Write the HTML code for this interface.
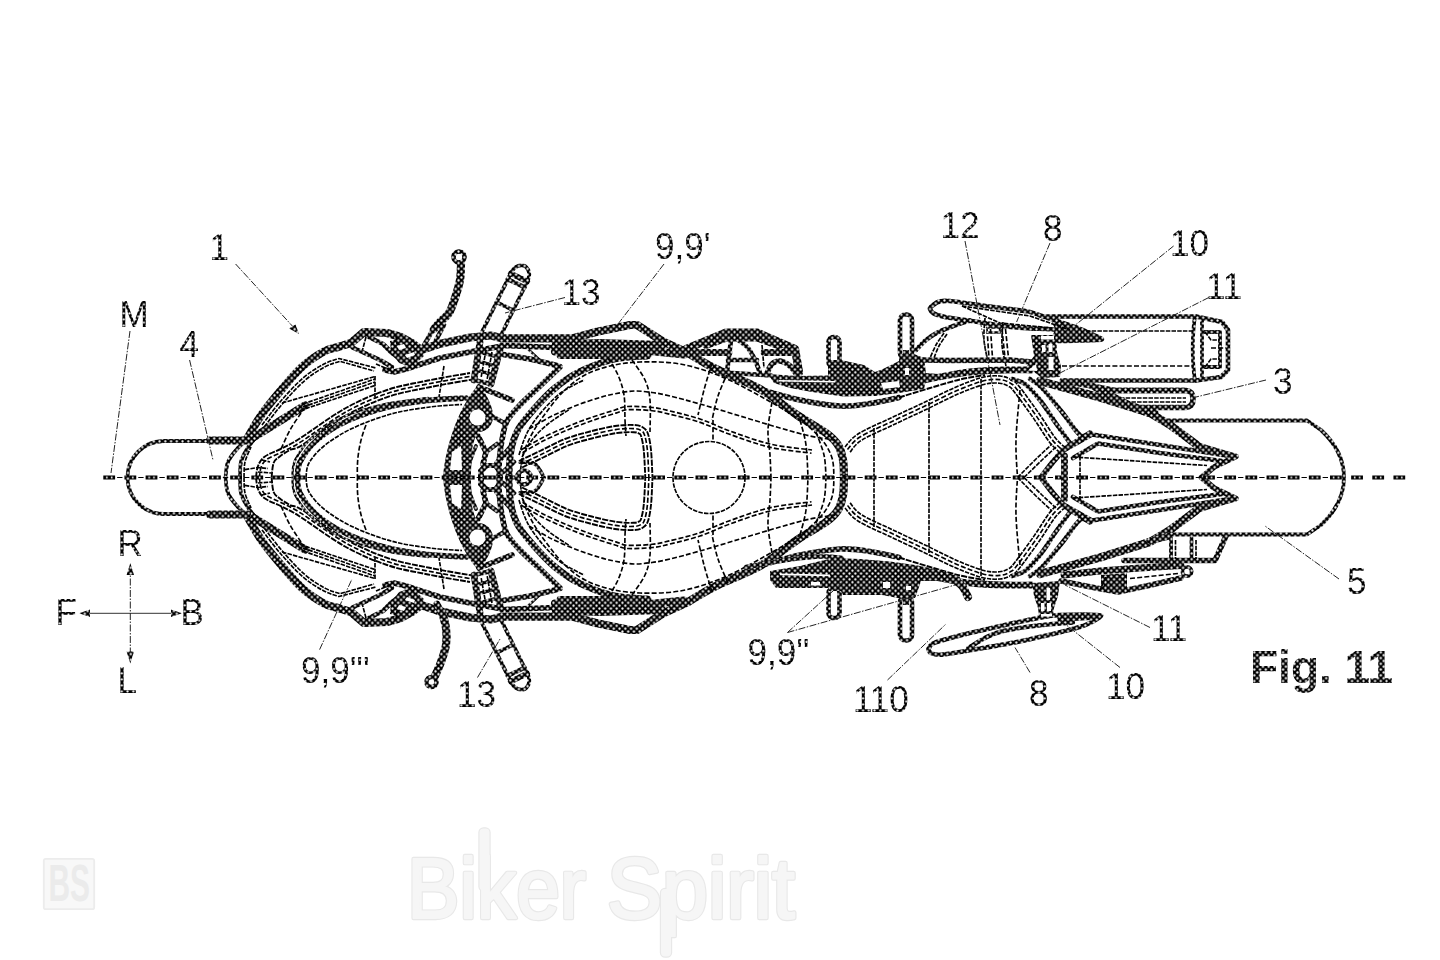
<!DOCTYPE html>
<html lang="en">
<head>
<meta charset="utf-8">
<title>Fig. 11 - Biker Spirit</title>
<style>
html,body{margin:0;padding:0;background:#fff;}
body{width:1440px;height:960px;overflow:hidden;font-family:"Liberation Sans",sans-serif;}
svg{display:block;position:absolute;left:0;top:0;}
.k9{stroke:url(#ht);stroke-width:9;fill:none;stroke-linejoin:round;stroke-linecap:round}
.k8{stroke:url(#ht);stroke-width:8;fill:none;stroke-linejoin:round;stroke-linecap:round}
.k7{stroke:url(#ht);stroke-width:8.2;fill:none;stroke-linejoin:round;stroke-linecap:round}
.k6{stroke:url(#ht);stroke-width:6.8;fill:none;stroke-linejoin:round;stroke-linecap:round}
.k5{stroke:url(#ht);stroke-width:5.6;fill:none;stroke-linejoin:round;stroke-linecap:round}
.k4{stroke:url(#ht);stroke-width:4.6;fill:none;stroke-linejoin:round;stroke-linecap:round}
.k3{stroke:url(#ht);stroke-width:3.8;fill:none;stroke-linejoin:round;stroke-linecap:round}
.k2{stroke:url(#ht);stroke-width:2.4;fill:none;stroke-linejoin:round;stroke-linecap:round}
.fk{fill:url(#ht);stroke:none}
.fw{fill:#fff;stroke:none}
.t{stroke:#000;stroke-width:1.65;fill:none;stroke-dasharray:4.5 1.2}
.td{stroke:#000;stroke-width:1.65;fill:none;stroke-dasharray:5 2.2}
.t2{stroke:#000;stroke-width:1.9;fill:none;stroke-dasharray:6 1.2}
.ld{stroke:#222;stroke-width:1;fill:none;stroke-dasharray:7 1.5 1.5 1.5}
.lb{font-family:"Liberation Sans",sans-serif;font-size:35px;fill:url(#ht2)}
.fg{font-family:"Liberation Sans",sans-serif;font-size:46px;font-weight:bold;fill:url(#ht)}
.wm{font-family:"Liberation Sans",sans-serif;font-size:86px;stroke-linejoin:round}
.wa{fill:#e8e8e8;stroke:#e8e8e8;stroke-width:4.4}
.wb{fill:#f6f6f6;stroke:#f6f6f6;stroke-width:2}
</style>
</head>
<body>
<svg width="1440" height="960" viewBox="0 0 1440 960">
<defs>
<pattern id="ht" width="5.75" height="5.75" patternUnits="userSpaceOnUse">
<rect width="5.75" height="5.75" fill="#000"/>
<circle cx="1.44" cy="1.44" r="1.12" fill="#fff"/><circle cx="4.31" cy="4.31" r="1.12" fill="#fff"/>
</pattern>
<pattern id="ht2" width="5.75" height="5.75" patternUnits="userSpaceOnUse">
<rect width="5.75" height="5.75" fill="#000"/>
<circle cx="1.44" cy="1.44" r="1.05" fill="#fff"/><circle cx="4.31" cy="4.31" r="1.05" fill="#fff"/>
</pattern>
<pattern id="htc" x="103.3" y="473.5" width="21.15" height="8" patternUnits="userSpaceOnUse">
<rect width="21.15" height="8" fill="#000"/>
<circle cx="3.6" cy="4" r=".95" fill="#fff"/><circle cx="8.4" cy="4" r=".95" fill="#fff"/>
</pattern>
</defs>
<rect width="1440" height="960" fill="#fff"/>

<!-- watermark -->
<g id="watermark">
<rect x="43.8" y="858.8" width="50.4" height="50.4" rx="2" fill="#f8f8f8" stroke="#ececec" stroke-width="1.8"/>
<text x="48.5" y="901" font-family="Liberation Sans, sans-serif" font-weight="bold" font-size="51.5" textLength="41.5" lengthAdjust="spacingAndGlyphs" fill="#ebebeb">BS</text>
<g class="wm wa">
<rect x="480.5" y="829.5" width="8" height="60" rx="3"/>
<rect x="662" y="890" width="8" height="65.5" rx="3"/>
<text x="407" y="918" textLength="179" lengthAdjust="spacingAndGlyphs">Biker</text>
<text x="607" y="918" textLength="188" lengthAdjust="spacingAndGlyphs">Spirit</text>
</g>
<g class="wm wb">
<rect x="480.5" y="829.5" width="8" height="60" rx="3"/>
<rect x="662" y="890" width="8" height="65.5" rx="3"/>
<text x="407" y="918" textLength="179" lengthAdjust="spacingAndGlyphs">Biker</text>
<text x="607" y="918" textLength="188" lengthAdjust="spacingAndGlyphs">Spirit</text>
</g>
</g>

<!-- symmetric half + mirror -->
<g id="half">
<path class="k3" d="M250,437 C247.8,439 240.7,444.8 237,449 C233.3,453.2 229.9,457.2 228,462 C226.1,466.8 225.9,474.9 225.5,477.5"/>
<path class="k3" d="M256,437 C254.5,439 249.5,444.8 247,449 C244.5,453.2 242.2,457.2 241,462 C239.8,466.8 240.2,474.9 240,477.5"/>
<path class="k7" d="M247,439 C249.5,434.8 256.2,422.3 262,414 C267.8,405.7 275.2,397 282,389 C288.8,381 296,372.2 303,366 C310,359.8 318.2,354.7 324,351.5 C329.8,348.3 333.5,348.4 338,347 C342.5,345.6 348.8,343.7 351,343 L364,332 L387,333 L401,337 L412,343 L421,350"/>
<path class="k4" d="M352.5,347.5 L380,360 L392,367"/>
<path class="k5" d="M385,370 L394,372 L406,369 L418,365 L440,358 L480,350"/>
<path class="k4" d="M367,336 L383,344 L392,353 L405,363"/>
<path class="fk" d="M390,341 L405,337 L419,345 L424,356 L412,367 L399,363 L391,352Z"/>
<path class="fw" d="M397,346 L404,344 L406,348 L399,350Z M405,355 L414,352 L415,355 L407,358Z"/>
<path class="t" d="M366,337 L362.5,350"/>
<path class="t" d="M396,336 L397,344"/>
<path class="t" d="M376,364 L391,370.5"/>
<path class="k7" d="M421,350 L439,344 L470,337.5 L491,335.5 L502,338.3 L573,338.3 L597,331.7 L630,325 L637,325 L663,341.5 L688,353"/>
<path class="k7" d="M688,353 C692.5,355.6 703,362.5 715,368.5 C727,374.5 746.3,381.2 760,389 C773.7,396.8 786,407.7 797,415 C808,422.3 819.2,428 826,433 C832.8,438 835.2,440.5 838,445 C840.8,449.5 842,454.6 843,460 C844,465.4 843.8,474.6 844,477.5"/>
<path class="k7" d="M556,344.5 L600,343 L662,345"/>
<path class="k5" d="M480,350 L505,345.5 L555,347.5"/>
<path class="k7" d="M555,351.5 L600,351 L650,351 L684,354.5"/>
<path class="k6" d="M560,355.5 L648,355.5"/>
<path class="k5" d="M503,354.5 L530,359 L555,365 L560,366.7"/>
<path class="k2" d="M528,349 L543,363"/>
<path class="k7" d="M250,439.5 L305,405.5"/>
<path class="td" d="M301,413 C299.2,415.8 293.3,424 290,430 C286.7,436 282.5,445.8 281,449"/>
<path class="t" d="M303,404 L375,379"/>
<path class="t" d="M303,407 L375,382"/>
<path class="t" d="M300,410.5 L375,385.5"/>
<path class="t" d="M282,403 L375,376.5"/>
<path class="t" d="M375,376 L375,399"/>
<path class="t" d="M444,366 L439,397"/>
<path class="t" d="M262,425 C265,421.2 273.2,409.8 280,402 C286.8,394.2 295.7,384.3 303,378 C310.3,371.7 318,367.2 324,364 C330,360.8 336.5,359.4 339,358.5 L376,368"/>
<path class="t" d="M264.4,426.8 C267.3,423 275.5,411.7 282.3,404 C289,396.2 297.8,386.5 305,380.3 C312.2,374 319.6,369.8 325.4,366.6 C331.3,363.5 337.6,362.2 340,361.3 L374,371"/>
<path class="t2" d="M256,477.5 C256.3,475.6 256.6,469.5 258,466 C259.4,462.5 260.7,459.6 264.6,456.7 C268.5,453.8 275.8,451.4 281.5,448.5 C287.2,445.6 288.4,445.7 299,439 C309.6,432.3 330.3,416.7 345,408.5 C359.7,400.3 373.2,394.7 387,390 C400.8,385.3 414.2,383.3 428,380.5 C441.8,377.7 463,374.2 470,373"/>
<path class="td" d="M259.3,478.1 C259.6,476.3 259.9,470.4 261.1,467.3 C262.4,464.2 263,462.1 266.6,459.4 C270.3,456.8 277.4,454.4 283.1,451.5 C288.8,448.6 290.2,448.6 300.8,441.9 C311.4,435.2 332.1,419.6 346.7,411.5 C361.2,403.4 374.4,397.8 388.1,393.2 C401.8,388.6 414.9,386.6 428.7,383.8 C442.4,381 463.6,377.6 470.6,376.3"/>
<path class="t2" d="M271.6,477.5 C271.9,475.1 272.3,466.5 273.6,463 C274.9,459.5 276.8,458.9 279.5,456.7 C282.2,454.5 286.1,452 290,450 C293.9,448 292.9,450.7 302.6,444.8 C312.3,438.8 333.9,422.5 348.3,414.4 C362.7,406.4 375.7,401 389.2,396.4 C402.7,391.9 415.7,390 429.4,387.2 C443,384.4 464.2,380.9 471.2,379.7"/>
<path class="k5" d="M297.5,477.5 C297.9,474.9 296.8,468.2 300,462 C303.2,455.8 309.2,446.8 317,440 C324.8,433.2 335.2,426.5 347,421 C358.8,415.5 374.5,410.4 388,407 C401.5,403.6 415,402 428,400.5 C441,399 459.7,398.4 466,398"/>
<path class="k2" d="M292.4,476.7 C292.9,473.8 291.9,466.4 295.4,459.6 C298.9,452.8 305.3,443.3 313.6,436.1 C321.8,428.9 332.4,421.7 344.8,416.3 C357.2,410.9 374.1,406.5 388,403.5 C401.9,400.5 421.3,398.9 428,398"/>
<path class="t" d="M306,477.5 C306.5,475.1 306,468.2 309,463 C312,457.8 316.8,451.8 324,446 C331.2,440.2 340.8,433.8 352,428.5 C363.2,423.2 378,417.6 391,414 C404,410.4 418.2,408.6 430,407 C441.8,405.4 456.7,404.9 462,404.5"/>
<path class="td" d="M366,425 Q356,450 357.5,477.5"/>
<path class="t" d="M244,477.5 C244.2,474.9 243.8,467.1 245,462 C246.2,456.9 250,449.5 251,447"/>
<path class="t" d="M244.8,469.6 L258,467.5 L268,468.5"/>
<path class="t" d="M262,460 L270,462"/>
<path class="t" d="M258,472 L271,473"/>
<path class="k3" d="M499.1,339.1 L527.3,281.6 Q532.2,271.7 524.7,265.8 Q515.5,263.5 510.7,273.4 L482.5,330.9"/>
<path class="k5" d="M527.3,281.6 L510.7,273.4"/>
<path class="k4" d="M524.5,287.3 L507.8,279.2"/>
<path class="k3" d="M513.2,310.3 L496.6,302.2"/>
<path class="k6" d="M480,342 L474,380"/>
<path class="k6" d="M501,346 L491,384"/>
<path class="k3" d="M479,352 L498,357"/>
<path class="k3" d="M477,361 L496,366"/>
<path class="k3" d="M476,370 L494,375"/>
<path class="k4" d="M474,380 L491,384"/>
<path class="t" d="M486,350 L481,378"/>
<path class="t" d="M492,352 L487,380"/>
<path class="fk" d="M479,384 C462,402 446,440 443,477.5 L469,477.5 C470,455 473,440 478,432 C488,432 494,424 493,414 C492,404 486,394 479,384Z"/>
<circle cx="477.5" cy="417.5" r="8" class="fw"/>
<path class="fw" d="M452,452 L461,446 L462,470 L450,470Z"/>
<path class="k5" d="M479,387 L512,400"/>
<path class="k4" d="M488,414 L506,424"/>
<path class="k5" d="M478,436 L486,452 L483,464"/>
<path class="k4" d="M486,452 L497,444"/>
<path class="k3" d="M469,477.5 C469.2,474.9 468.8,467.2 470,462 C471.2,456.8 475,448.7 476,446"/>
<path class="fk" d="M478,477.5 L478,470 L484,463 L496,463 L502,470 L503,477.5Z"/>
<path class="fw" d="M484,477.5 L484,472 L488,468 L494,468 L497,472 L497,477.5Z"/>
<path class="k5" d="M497,463 L510,448"/>
<path class="k4" d="M503,472 L514,462"/>
<path class="k3" d="M520,462 C522.5,462.3 531,461.4 535,464 C539,466.6 542.5,475.2 544,477.5"/>
<path class="k6" d="M509,477.5 C509.2,474.2 509.3,463.9 510,458 C510.7,452.1 511.5,447 513,442 C514.5,437 515.3,433.7 519,428 C522.7,422.3 529,414.7 535,408 C541,401.3 547.5,394.1 555,388 C562.5,381.9 570.3,376.2 580,371.5 C589.7,366.8 601.8,362.1 613,359.5 C624.2,356.9 641.3,356.6 647,356"/>
<path class="k5" d="M499,477.5 C499.1,474.2 499,464.2 499.5,458 C500,451.8 500.8,446.2 502,440 C503.2,433.8 504,426.8 507,421 C510,415.2 514.8,410.5 520,405 C525.2,399.5 531.3,394.3 538,388 C544.7,381.7 556.3,370.5 560,367"/>
<path class="td" d="M520,477.5 C520.5,473.8 520.8,462.6 523,455 C525.2,447.4 528.8,439.5 533,432 C537.2,424.5 542.7,417 548,410 C553.3,403 558.8,395.8 565,390 C571.2,384.2 577.5,379 585,375 C592.5,371 600.8,368.2 610,366 C619.2,363.8 628.3,362.3 640,362 C651.7,361.7 666.7,361.7 680,364 C693.3,366.3 706.7,370.7 720,376 C733.3,381.3 746.7,388.7 760,396 C773.3,403.3 789.7,412.7 800,420 C810.3,427.3 816.7,433.7 822,440 C827.3,446.3 830,451.8 832,458 C834,464.2 833.7,474.2 834,477.5"/>
<path class="td" d="M529,429 C532.8,426.8 543.9,420 552,416 C560.1,412 569.5,408.1 577.5,405 C585.5,401.9 593.8,399.4 600,397.5 C606.2,395.6 609.3,394.8 615,393.8 C620.7,392.7 627.8,391.2 634,391 C640.2,390.8 646,391.7 652,392.5 C658,393.3 662,394.1 670,396 C678,397.9 688.3,400.7 700,404 C711.7,407.3 726.7,412 740,416 C753.3,420 768.3,424.7 780,428 C791.7,431.3 800.8,434 810,436 C819.2,438 830.8,439.3 835,440"/>
<path class="td" d="M521,450 C524.2,448.2 532.7,442.8 540,439 C547.3,435.2 556.7,431 565,427.5 C573.3,424 581.7,420.9 590,418 C598.3,415.1 608.8,411.9 615,410 C621.2,408.1 621.2,406.9 627.5,406.5 C633.8,406.1 645.4,406.8 652.5,407.5 C659.6,408.2 662.1,409.1 670,411 C677.9,412.9 690,415.7 700,419 C710,422.3 718.3,426.8 730,431 C741.7,435.2 756.3,440.8 770,444 C783.7,447.2 805,449 812,450"/>
<path class="td" d="M522.6,452.8 C525.7,450.9 534.2,445.6 541.5,441.8 C548.7,438.1 558,433.9 566.2,430.5 C574.5,427 582.8,423.9 591.1,421 C599.3,418.1 609.8,414.9 615.9,413.1 C622,411.2 621.7,410.1 627.7,409.7 C633.8,409.3 645.2,409.9 652.2,410.7 C659.1,411.4 661.4,412.2 669.2,414.1 C677.1,416 689,418.7 699,422 C708.9,425.4 717.2,429.8 728.9,434 C740.6,438.2 755.5,443.9 769.3,447.1 C783,450.3 804.5,452.2 811.5,453.2"/>
<path class="t" d="M519,455 C519.8,452.5 522,444.8 524,440 C526,435.2 527.5,431.3 531,426 C534.5,420.7 539.8,413.7 545,408 C550.2,402.3 555.5,396.7 562,392 C568.5,387.3 580.3,382 584,380"/>
<path class="t" d="M522,457 C523.7,454.2 527.7,445.5 532,440 C536.3,434.5 541.7,429.2 548,424 C554.3,418.8 566.3,411.5 570,409"/>
<path class="t2" d="M519,461 C522.5,459.3 532.3,454.7 540,451 C547.7,447.3 556.7,442.2 565,439 C573.3,435.8 581.7,433.7 590,431.5 C598.3,429.3 607.7,427.1 615,426 C622.3,424.9 629.3,424.8 634,425 C638.7,425.2 640.7,426 643,427.5 C645.3,429 646.7,430.2 648,434 C649.3,437.8 650.2,442.8 651,450 C651.8,457.2 652.2,472.9 652.5,477.5"/>
<path class="td" d="M520.5,464.3 C524,462.6 533.9,457.9 541.6,454.2 C549.2,450.6 558.1,445.6 566.3,442.4 C574.5,439.1 582.7,437.1 590.9,435 C599.1,432.9 608.4,430.6 615.5,429.6 C622.7,428.5 629.6,428.4 633.8,428.6 C638.1,428.8 639.3,429.4 641.1,430.5 C642.9,431.6 643.5,431.9 644.6,435.2 C645.7,438.5 646.7,443.3 647.4,450.4 C648.1,457.5 648.7,473.1 648.9,477.7"/>
<path class="t2" d="M522.1,467.5 C525.6,465.8 535.5,461.1 543.1,457.5 C550.7,453.9 559.5,448.9 567.6,445.7 C575.7,442.5 583.7,440.6 591.8,438.5 C599.9,436.4 609.1,434.2 616.1,433.1 C623,432.1 629.8,432.1 633.6,432.2 C637.5,432.3 637.8,432.9 639.1,433.6 C640.4,434.3 640.4,433.5 641.2,436.4 C642,439.3 643.2,443.8 643.8,450.7 C644.5,457.7 645.1,473.4 645.3,477.9"/>
<path class="td" d="M608,358 C609.7,360.8 615.3,368.8 618,375 C620.7,381.2 622.8,387.5 624,395 C625.2,402.5 624.7,413.2 625,420 C625.3,426.8 625.8,433.3 626,436"/>
<path class="td" d="M632,360 C634.2,363.3 642,373.3 645,380 C648,386.7 649.2,391.3 650,400 C650.8,408.7 650,426.7 650,432"/>
<path class="td" d="M712,363 C710.7,367.5 706.3,381.3 704,390 C701.7,398.7 699,410.8 698,415"/>
<path class="td" d="M728,372 C726.3,376 720.7,388 718,396 C715.3,404 713,416 712,420"/>
<path class="td" d="M713,420 L713,441"/>
<path class="td" d="M772,402 C771.3,406.7 768.3,421.2 768,430 C767.7,438.8 769.5,447.1 770,455 C770.5,462.9 770.8,473.8 771,477.5"/>
<path class="td" d="M800,420 C801,424.2 804.7,435.4 806,445 C807.3,454.6 807.7,472.1 808,477.5"/>
<path class="td" d="M816,432 C817.3,435.8 822.3,447.4 824,455 C825.7,462.6 825.7,473.8 826,477.5"/>
<path class="k5" d="M762,390 C768.3,391.7 787,397.3 800,400 C813,402.7 828.3,405.4 840,406 C851.7,406.6 860.2,404.9 870,403.5 C879.8,402.1 894.2,398.5 899,397.5"/>
<path class="k6" d="M920,381 C925,380 940.8,376.6 950,375 C959.2,373.4 965.8,372.3 975,371.5 C984.2,370.7 995.7,370.2 1005,370 C1014.3,369.8 1026.7,370 1031,370"/>
<path class="t" d="M845,447 C847.2,444.8 850.2,438.9 858,434 C865.8,429.1 880.8,422.8 892,417.5 C903.2,412.2 914.5,407 925,402 C935.5,397 945.5,391.6 955,387.5 C964.5,383.4 974.5,379.4 982,377.5 C989.5,375.6 995,375.6 1000,376 C1005,376.4 1008.7,378.1 1012,380 C1015.3,381.9 1015.3,381.7 1020,387.5 C1024.7,393.3 1034.2,406.7 1040,415 C1045.8,423.3 1050.8,432.1 1055,437.5 C1059.2,442.9 1063.3,445.8 1065,447.5"/>
<path class="td" d="M847.5,449.5 C849.6,447.5 852.2,441.8 859.9,437 C867.6,432.2 882.4,426 893.6,420.7 C904.7,415.4 916.1,410.2 926.5,405.3 C937,400.3 947,394.9 956.4,390.8 C965.8,386.8 975.7,382.9 982.9,381 C990.1,379.1 995.1,379.2 999.7,379.6 C1004.3,379.9 1007.3,381.4 1010.2,383.1 C1013.1,384.8 1012.7,384.1 1017.2,389.7 C1021.7,395.4 1031.2,408.7 1037.1,417.1 C1042.9,425.4 1047.9,434.2 1052.1,439.7 C1056.4,445.2 1060.7,448.3 1062.5,450"/>
<path class="t" d="M850.1,452.1 C852,450.1 854.3,444.8 861.8,440.1 C869.3,435.4 884.1,429.3 895.1,424 C906.1,418.7 917.6,413.5 928.1,408.5 C938.6,403.5 948.6,398.1 957.8,394.1 C967.1,390.1 976.9,386.3 983.8,384.5 C990.7,382.7 995.3,382.9 999.4,383.2 C1003.5,383.5 1005.9,384.8 1008.4,386.2 C1010.9,387.7 1010.1,386.5 1014.4,392 C1018.7,397.5 1028.3,410.8 1034.1,419.1 C1039.9,427.4 1045,436.3 1049.3,441.9 C1053.6,447.5 1058.1,450.8 1059.9,452.6"/>
<path class="t2" d="M899,397.5 C904.2,395.9 919.8,391 930,388 C940.2,385 950.8,381.7 960,379.5 C969.2,377.3 980.8,375.8 985,375"/>
<path class="k4" d="M1030,379 C1032,380.5 1036.7,382.5 1042,388 C1047.3,393.5 1055.7,404.2 1062,412 C1068.3,419.8 1075.3,431.5 1080,435 C1084.7,438.5 1088.3,433.3 1090,433"/>
<path class="k4" d="M1012,379 C1014.2,379.8 1020.3,380.5 1025,384 C1029.7,387.5 1035,393.7 1040,400 C1045,406.3 1050,414.8 1055,422 C1060,429.2 1067.5,439.5 1070,443"/>
<path class="t" d="M874,428 L874,477.5"/>
<path class="t" d="M929,402 L929,477.5"/>
<path class="t" d="M981,379 L981,477.5"/>
<path class="td" d="M1020,390 C1019.3,398.3 1016.4,425.4 1016,440 C1015.6,454.6 1017.2,471.2 1017.5,477.5"/>
<path class="k7" d="M1040,381 L1100,397.5 L1150,413 L1170,425 L1197,445"/>
<path class="k5" d="M1197,445 L1222,452.5 L1236,456.5 L1214,467 L1201.5,477.5"/>
<path class="k4" d="M1100,397 L1150,415"/>
<path class="k4" d="M1060,452.5 L1092,434.5 L1160,445 L1226,455.5"/>
<path class="k4" d="M1073,458 L1098,443.5 L1160,453 L1222,461"/>
<path class="t" d="M1073,457 L1207,465.5"/>
<path class="k5" d="M1041,477.5 L1052,463 L1063,450 L1090,433"/>
<path class="t" d="M1017.5,477.5 L1036,459 L1052,444"/>
<path class="t" d="M1024,477.5 L1042,460 L1056,447"/>
<rect x="828.5" y="337" width="11" height="30" rx="5" class="k4"/>
<rect x="900" y="314.5" width="12" height="44" rx="5.5" class="k4"/>
<rect x="903" y="350" width="6" height="8" class="fk"/>
</g>
<use href="#half" transform="matrix(1 0 0 -1 0 955)"/>

<!-- non-symmetric parts -->
<g id="rest">
<path d="M103.3,477.5 H1344" stroke="#000" stroke-width="1.2" fill="none" stroke-dasharray="5.35 15.8" stroke-dashoffset="-13.8"/>
<path d="M103.3,477.5 H1405.2" stroke="url(#htc)" stroke-width="4.2" fill="none" stroke-dasharray="11.8 9.35"/>
<path class="k3" d="M245,441 H164 A36.5,36.5 0 0 0 164,514 H245"/>
<path class="k8" d="M210,440.5 H247"/>
<path class="k8" d="M210,514.5 H247"/>
<path class="k3" d="M1168,420.5 H1307 L1321,430 C1336,444 1344,460 1344,477.5 C1344,495 1336,511 1321,525 L1307,534.5 H1168"/>
<circle cx="524" cy="477.5" r="7" class="k4"/>
<circle cx="709" cy="477.5" r="36" class="t"/>
<path class="k6" d="M1064.5,456 V499"/>
<path class="t" d="M1080,456 V499"/>
<path class="k4" d="M930,308 C930.5,306.9 936,302.7 938,302 C940,301.3 944.8,300.6 950,301 C955.2,301.4 982.2,305.4 990,306.5 C997.8,307.6 1022.8,310.6 1028,311.5 C1033.2,312.4 1037.3,314.4 1042,316 C1046.7,317.6 1069.6,325 1075,327 C1080.4,329 1093.3,334.8 1096,336 C1098.7,337.2 1103.3,339.1 1101.5,339.5 C1099.7,339.9 1082.8,340.4 1078,340.5 C1073.2,340.6 1056.2,341.6 1054,340.5 C1051.8,339.4 1058.4,331.2 1056,330 C1053.6,328.8 1035.4,328.9 1030,328.5 C1024.6,328.1 1007.5,326.7 1002,326 C996.5,325.3 980.7,322.4 975,321.5 C969.3,320.6 949.2,317.9 945,317 C940.8,316.1 934.5,313.9 933,313 C931.5,312.1 929.5,309.1 930,308Z"/>
<path class="fk" d="M1052,322 L1076,327 L1100,338 L1101,341 L1054,341 L1056,331Z"/>
<path class="t" d="M962,306 L1000,323 L1052,328"/>
<path class="t" d="M962,306 L1030,316 L1070,330"/>
<path class="k4" d="M928.5,649 C928.8,648 930.7,644.4 934,643 C937.3,641.6 954.8,636.8 961.7,635 C968.6,633.2 995.4,627.2 1003,625.5 C1010.6,623.8 1032.4,619 1038,618 C1043.6,617 1054.3,615.4 1059,615 C1063.7,614.6 1080.8,614.5 1085,614.5 C1089.2,614.5 1100.3,614.8 1101,615.5 C1101.7,616.2 1094.1,620.9 1092,622 C1089.9,623.1 1083,626 1079.7,627 C1076.4,628 1065.3,631 1059,632.5 C1052.7,634 1026,640.2 1017,642 C1008,643.8 976.2,649.2 968.6,650.5 C961,651.8 944.8,654.5 941,654.7 C937.2,655 932.2,653.6 931,653 C929.8,652.4 928.2,650 928.5,649Z"/>
<path class="k4" d="M968.6,648 C971.3,646.3 979.3,640.8 985,638 C990.7,635.2 994.2,633.1 1003,631 C1011.8,628.9 1026.4,626.9 1038,625.5 C1049.6,624.1 1067,623 1072.8,622.5"/>
<path class="k5" d="M1060,619 L1095,617"/>
<path class="fk" d="M768,374 L797,376 L828,375.5 L828,360 L841,360 L850,362 L864,365 L875,372 L883,369 L899,361 L899,354 L914,354 L924,358 L926,373 L939,374 L939,379.5 L926,380 L924,389 L899,393 L875,396 L843,396.5 L812,392 L790,388 L774,383Z"/>
<path class="fw" d="M779,380 L835,381 L835,382.6 L779,381.6Z M881,383 L899,381 L900,387 L883,389Z M905,368 h4 v7 h-4Z"/>
<path class="k4" d="M746,567 C753.3,565.8 777.2,561.2 790,559.5 C802.8,557.8 814.3,556.8 823,556.5 C831.7,556.2 838.8,557.8 842,558"/>
<path class="fk" d="M770,571 L800,566 L833,558 L860,559 L890,561.5 L915,565 L940,570 L960,577 L958,585 L940,581 L921,581 L918,590 L915,598 L898,598 L882,595 L843,595 L841,591 L829,591 L828,588 L776,588 L770,580Z"/>
<path class="fw" d="M780,573.5 L830,574.5 L830,576.2 L780,575.2Z M811,582 h9 v3.4 h-9Z M883,582 h7 v6 h-7Z M906,586 h5 v4 h-5Z"/>
<path class="k4" d="M1043,316.5 H1196 L1222,322 L1228,330 V370 L1221,377 L1196,380.5 H1062"/>
<path class="k3" d="M1195,316 C1192,335 1192,362 1195,381"/>
<path class="k3" d="M1202,318 V379"/>
<path class="k3" d="M1204,332 H1220 V367 H1204"/>
<path class="t" d="M1205,332 L1211,340 H1220 M1205,367 L1211,359 H1220"/>
<path class="td" d="M1211,348 H1226"/>
<path class="td" d="M1062,366 H1194"/>
<path class="t" d="M1086,331 H1194"/>
<path class="fk" d="M1031,335 L1056,335 L1057,352 L1061,366 L1060,377 L1042,378 L1034,372 L1024,370 L1034,356Z"/>
<path class="fw" d="M1041,336 H1054 V339.5 H1041Z M1048.5,357 H1053.5 V370 H1048.5Z M1028,370.5 L1036,364 L1037,371Z M1042,345 h3.5 v7 h-3.5Z M1048.5,344 h4 v8 h-4Z"/>
<path class="td" d="M987,329 L989,358 M990.5,329 L992.5,358 M1002,329 L1005,358 M1005.5,329 L1008.5,358"/>
<path class="k4" d="M916,350 C917.7,348.3 922.4,342.9 926,340 C929.6,337.1 933.2,334.8 937.5,332.5 C941.8,330.2 946.6,328.5 952,326.5 C957.4,324.5 967,321.5 970,320.5"/>
<path class="k2" d="M987,327.5 H1000 V332.5 H987"/>
<path class="t" d="M944,333 C942.7,335 938.3,340.8 936,345 C933.7,349.2 931,355.8 930,358"/>
<path class="t" d="M947,334 C945.7,336 941.2,342 939,346 C936.8,350 934.8,356 934,358"/>
<path class="t" d="M985,318 C984.8,321.7 983.5,332.7 984,340 C984.5,347.3 987.3,358.3 988,362"/>
<path class="t" d="M1003,322 C1002.8,325.8 1001.5,337.7 1002,345 C1002.5,352.3 1005.3,362.5 1006,366"/>
<path class="k5" d="M922,360 L950,360.5 L1010,360 L1032,362"/>
<path class="k5" d="M1062,381 L1092,386 L1115,390.5 L1186,390.5"/>
<path class="k5" d="M1115,390.5 H1186 Q1193,391 1193,399 Q1193,407 1186,407.5 H1140"/>
<path class="t" d="M1120,398 H1186"/>
<path class="t" d="M1120,402 H1186"/>
<path class="k6" d="M1092,386 L1130,405 L1155,413"/>
<path class="k7" d="M686,349 L726,332.5 L757,332.5 L795,349 L799,372"/>
<path class="k6" d="M706,345.5 L727,338 L757,338 L779,346"/>
<path class="k6" d="M691,352.5 L729,352.5"/>
<path class="k6" d="M764,352.5 L795,352.5"/>
<path class="k4" d="M731,340 L727,372"/>
<path class="k4" d="M738,340 C739.7,341.3 745.2,344.7 748,348 C750.8,351.3 753,355.8 755,360 C757,364.2 759.2,370.8 760,373"/>
<path class="k4" d="M728,360 L757,360"/>
<path class="k4" d="M724,372.5 L771,375.5"/>
<path class="t" d="M762,345 L764,368"/>
<path class="k5" d="M767,373 C767.8,371.5 769.8,366 772,364 C774.2,362 777,360.7 780,361 C783,361.3 787.2,363.7 790,366 C792.8,368.3 795.8,373.5 797,375"/>
<path class="fk" d="M1032,583 L1060,581 L1058,596 L1054,608 L1053,616 L1039,616 L1038,608 L1034,596Z"/>
<path class="fw" d="M1046.5,588 h3.6 v12 h-3.6Z M1041,603 h3.5 v8 h-3.5Z M1047,603 h4 v8 h-4Z M1041,614 h11 v2.5 h-11Z"/>
<path class="k6" d="M1064,575 L1100,571 L1140,568 L1181,565.5"/>
<circle cx="1187" cy="571.5" r="4.6" class="k3"/>
<path class="k5" d="M1061,581 L1096,588 L1118,592 L1151,585 L1181,578"/>
<path class="fk" d="M1101,575 L1127,573 L1127,590 L1113,593 L1101,589Z"/>
<path class="td" d="M1130,578.5 L1178,573.5"/>
<path class="t" d="M1106,577 L1100,590"/>
<path class="k5" d="M1124,560.5 H1215 L1226,536"/>
<path class="k3" d="M1171,538 V560 M1191.5,538 V560"/>
<path class="t" d="M1175.5,540 V559 M1196,540 V559"/>
<path class="k6" d="M1150,541 L1168,536.5"/>
<path class="k8" d="M953,579 C954.5,580.2 959.5,583 962,586 C964.5,589 967,595.2 968,597"/>
<circle cx="459" cy="257" r="5.5" class="k4"/>
<path class="k7" d="M461,264 C460.8,266.7 461,274.3 460,280 C459,285.7 456.8,292.5 455,298 C453.2,303.5 451.5,309 449,313 C446.5,317 442.5,319.3 440,322 C437.5,324.7 435,327.8 434,329"/>
<path class="k4" d="M435,326 L423,347"/>
<path class="k4" d="M444,325 L433,346"/>
<circle cx="431.5" cy="682" r="5" class="k4"/>
<path class="k7" d="M442,612 C442.7,614.7 445.3,622.5 446,628 C446.7,633.5 446.8,639.3 446,645 C445.2,650.7 442.8,656.8 441,662 C439.2,667.2 436,673.7 435,676"/>
<path class="k6" d="M437,604 L442,614"/>
<path class="ld" d="M235.6,264 L296,330"/>
<path class="ld" d="M130,331 L111,473"/>
<path class="ld" d="M189.6,360 L213,460"/>
<path class="ld" d="M565,297.5 L505,313"/>
<path class="ld" d="M664,264 L616.7,325.7"/>
<path class="ld" d="M965,241 L1000,425"/>
<path class="ld" d="M1050,243 L1016.6,322"/>
<path class="ld" d="M1173.6,246 L1076,324.5"/>
<path class="ld" d="M1208.8,297.5 L1060,373"/>
<path class="ld" d="M1266,380 L1194,397.5"/>
<path class="ld" d="M1339,579 L1265,526"/>
<path class="ld" d="M1150,627.5 L1065,585"/>
<path class="ld" d="M1120,667.5 L1060,620"/>
<path class="ld" d="M1030,672.5 L1015,647.5"/>
<path class="ld" d="M887.5,680 L946,624"/>
<path class="ld" d="M787.5,632.5 L867,560"/>
<path class="ld" d="M787.5,632.5 L955,585"/>
<path class="ld" d="M477.5,677.5 L500,639"/>
<path class="ld" d="M319.6,649.6 L352,579"/>
<path d="M299,334 L289,328.5 L295.5,324.5Z" fill="url(#ht)"/>
<path d="M83,613.3 H177" stroke="#333" stroke-width="1" fill="none"/>
<path class="ld" d="M130.3,567 V657"/>
<path d="M79,613.3 L90,609.6 L90,617Z M182,613.3 L171,609.6 L171,617Z M130.3,563 L126.6,575 L134,575Z M130.3,663.5 L126.6,651.5 L134,651.5Z" fill="url(#ht)"/>
</g>

<!-- labels -->
<g id="labels" opacity="0.999">
<text class="lb" transform="translate(209.5,260) scale(1,1.05)">1</text>
<text class="lb" transform="translate(119.5,327) scale(1,1.05)">M</text>
<text class="lb" transform="translate(179.5,357) scale(1,1.05)">4</text>
<text class="lb" transform="translate(561.5,305) scale(1,1.05)">13</text>
<text class="lb" transform="translate(655,258.5) scale(1,1.05)">9,9'</text>
<text class="lb" transform="translate(940.5,237.5) scale(1,1.05)">12</text>
<text class="lb" transform="translate(1043,240.5) scale(1,1.05)">8</text>
<text class="lb" transform="translate(1170,256) scale(1,1.05)">10</text>
<text class="lb" transform="translate(1206,299) scale(1,1.05)">11</text>
<text class="lb" transform="translate(1273,394) scale(1,1.05)">3</text>
<text class="lb" transform="translate(1347,594) scale(1,1.05)">5</text>
<text class="lb" transform="translate(1151,641) scale(1,1.05)">11</text>
<text class="lb" transform="translate(1106,699) scale(1,1.05)">10</text>
<text class="lb" transform="translate(1029,706) scale(1,1.05)">8</text>
<text class="lb" transform="translate(853,712) scale(1,1.05)">110</text>
<text class="lb" transform="translate(747.5,664.5) scale(1,1.05)">9,9''</text>
<text class="lb" transform="translate(457,707) scale(1,1.05)">13</text>
<text class="lb" transform="translate(301,682.5) scale(1,1.05)">9,9'''</text>
<text class="lb" transform="translate(117.5,556) scale(1,1.05)">R</text>
<text class="lb" transform="translate(55.5,625) scale(1,1.05)">F</text>
<text class="lb" transform="translate(180.5,625) scale(1,1.05)">B</text>
<text class="lb" transform="translate(117.5,693) scale(1,1.05)">L</text>
<text class="fg" transform="translate(1250,682.5) scale(1,1.0)">Fig. 11</text>
</g>
</svg>
</body>
</html>
